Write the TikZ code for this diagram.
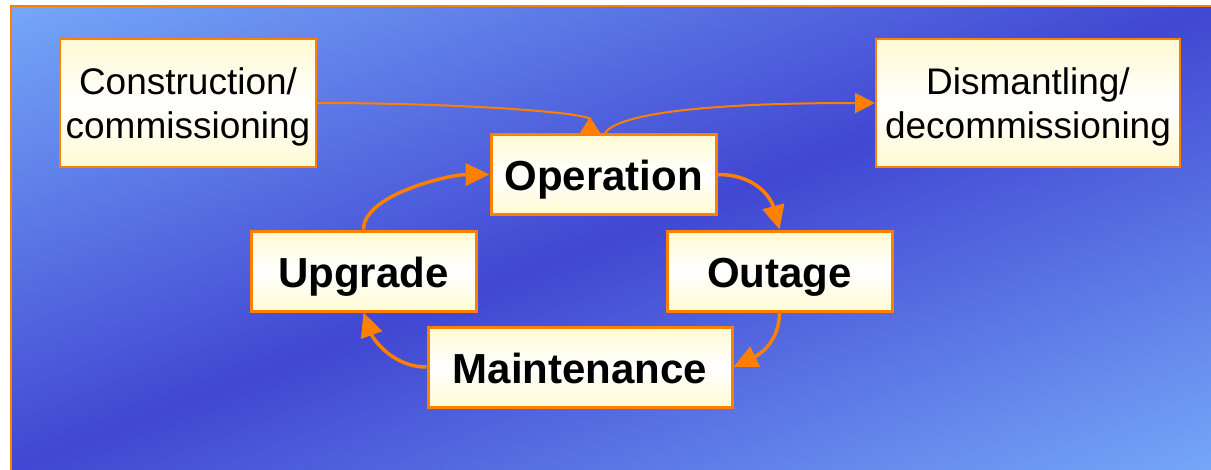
\documentclass[tikz,border=0pt]{standalone}
\usepackage{fontspec}
\setmainfont{Liberation Sans}
\usetikzlibrary{arrows.meta}

\definecolor{bgLight}{HTML}{75A7F8}
\definecolor{bgDark}{HTML}{4147D2}
\definecolor{boxLine}{HTML}{FF8000}
\definecolor{boxFill}{HTML}{FFFAD2}

\begin{document}
\begin{tikzpicture}[x=1pt,y=-1pt,
    box/.style={draw=boxLine, top color=boxFill, bottom color=boxFill, middle color=white, inner sep=0pt},
    phase/.style={box, line width=3pt, minimum width=225pt, minimum height=80pt,
        text height=32pt, text depth=0pt, font=\fontsize{42}{48}\selectfont\bfseries},
    endphase/.style={box, line width=2pt, minimum height=128pt, align=center, text depth=0pt,
        font=\fontsize{37}{44}\selectfont},
    loopline/.style={draw=boxLine, line width=3.5pt, -{Triangle[length=24pt,width=22pt]}},
    sideline/.style={draw=boxLine, line width=2pt}]
    \useasboundingbox (0,0) rectangle (1211,469);
    % backdrop: dark band along the diagonal, light corners
    \begin{scope}
        \clip (11,6) rectangle (1213,471);
        \begin{scope}[transform canvas={rotate around={21:(612,238.5)}}]
            \shade[top color=bgLight, bottom color=bgLight, middle color=bgDark] (-300,-193.5) rectangle (1500,670.5);
        \end{scope}
    \end{scope}
    \draw[boxLine, line width=2pt] (11,471) -- (11,6) -- (1213,6);
    % life cycle boxes
    \node[endphase, minimum width=256pt] (cons) at (188,103) {Construction/\\commissioning};
    \node[endphase, minimum width=304pt] (dism) at (1028,103) {Dismantling/\\decommissioning};
    \node[phase] (oper) at (603.5,174.5) {Operation};
    \node[phase] (upg) at (363.5,271) {Upgrade};
    \node[phase] (outg) at (779.5,271) {Outage};
    \node[phase, minimum width=304pt] (maint) at (580,367) {Maintenance};
    % in and out of service
    \draw[sideline, -{Triangle[reversed,length=16pt,width=20pt]}] (cons.east) .. controls +(150,0) and +(0,-20) .. ([xshift=-13.5pt]oper.north);
    \draw[sideline, -{Triangle[length=20pt,width=20pt]}] ([xshift=1.5pt]oper.north) .. controls +(10,-15) and +(-200,0) .. (dism.west);
    % the loop
    \draw[loopline] (oper.east) .. controls +(40,0) and +(-8,-30) .. (outg.north);
    \draw[loopline] (outg.south) .. controls +(0,30) and +(25,-12) .. (maint.east);
    \draw[loopline] (maint.west) .. controls +(-35,0) and +(9,25) .. (upg.south);
    \draw[loopline] (upg.north) .. controls +(0,-35) and +(-40,0) .. (oper.west);
\end{tikzpicture}
\end{document}
